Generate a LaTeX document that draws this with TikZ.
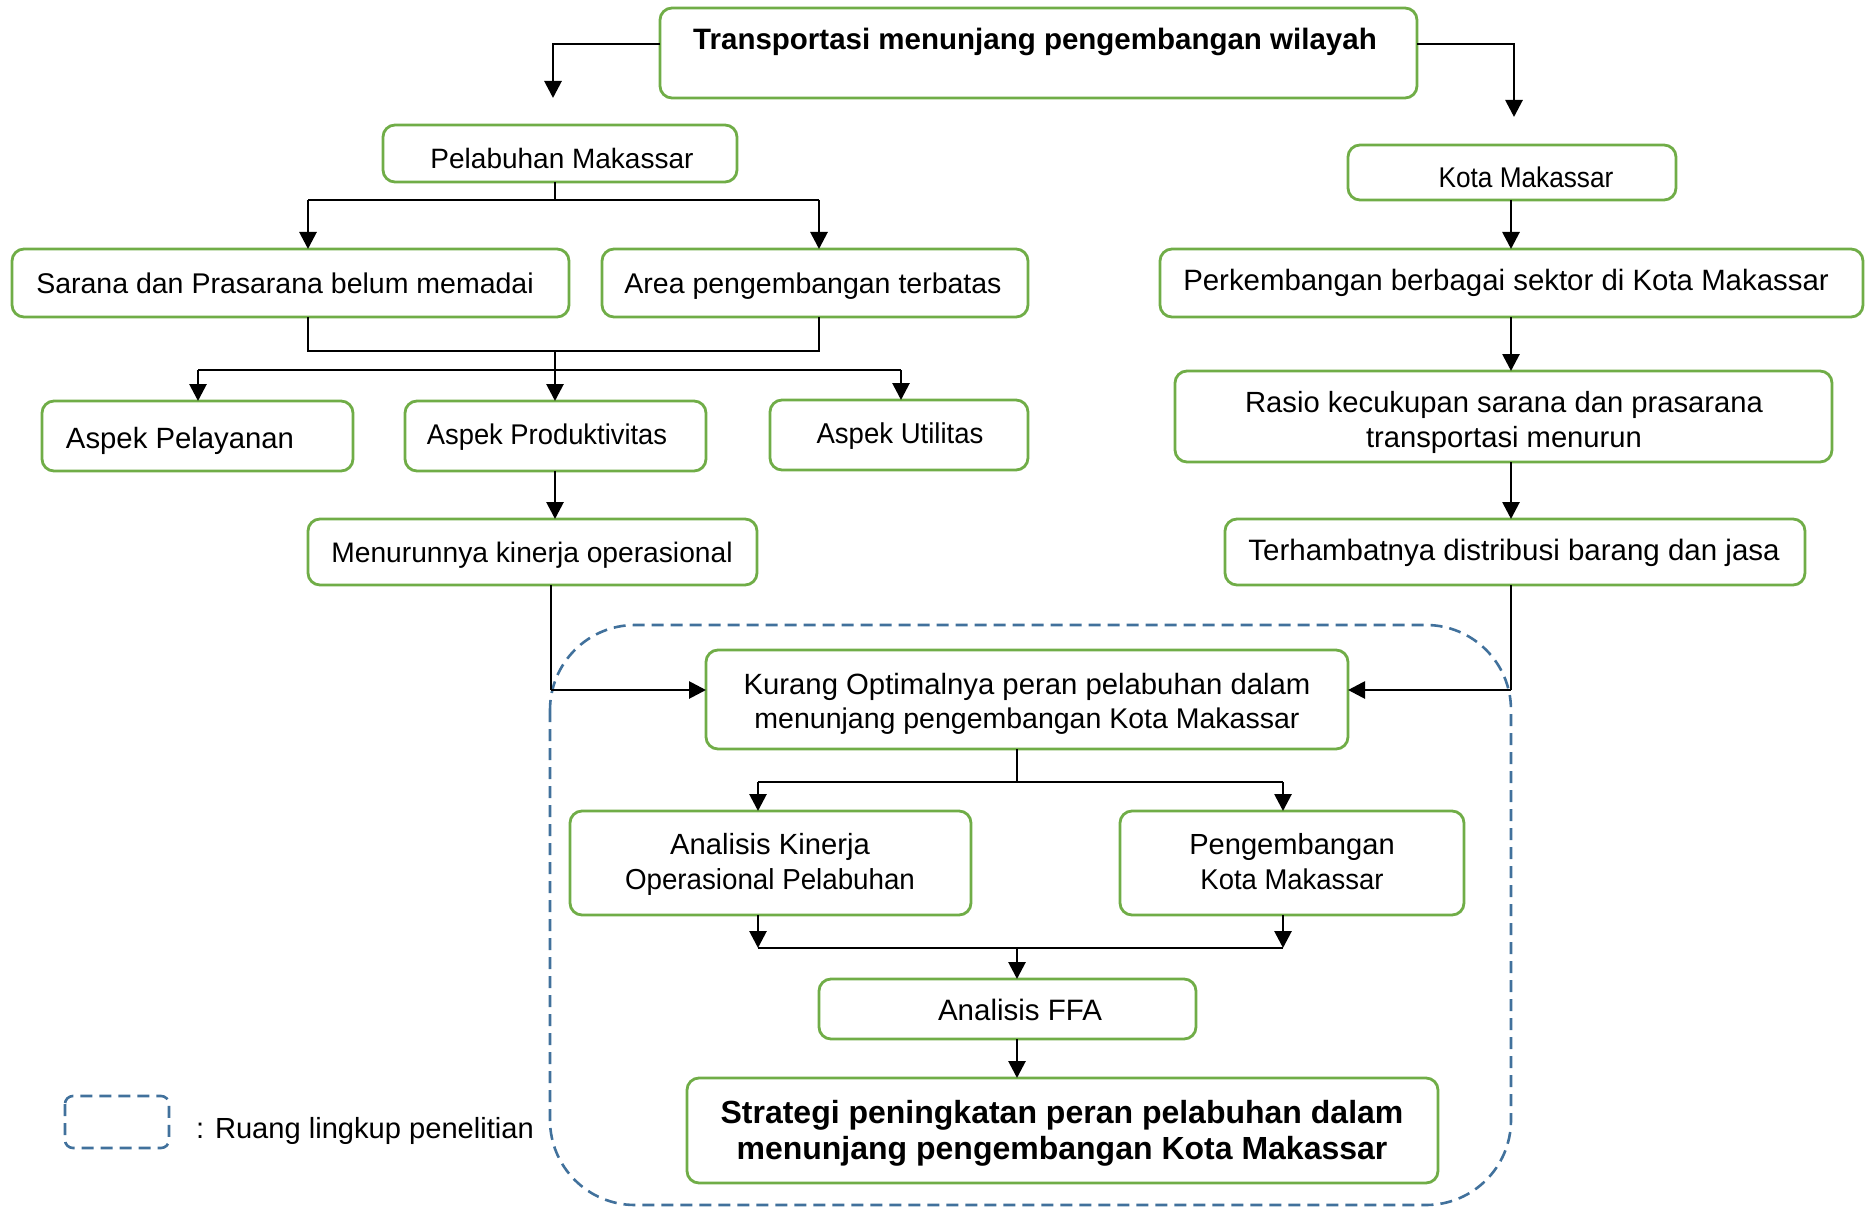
\documentclass[tikz,border=0pt]{standalone}
\usepackage{fontspec}
\setmainfont{Liberation Sans}
\newfontfamily\narrowA[FakeStretch=0.92]{Liberation Sans}
\newfontfamily\narrowB[FakeStretch=0.96]{Liberation Sans}
\usetikzlibrary{arrows.meta,calc}
\definecolor{gr}{HTML}{70AD47}
\definecolor{db}{HTML}{41719C}
\tikzset{
 gbox/.style={draw=gr, line width=2.8pt, rounded corners=12pt, fill=white, inner sep=0pt, outer sep=0pt},
 txt/.style={anchor=base, inner sep=0pt, font=\fontsize{28.5}{34}\selectfont},
 fs/.style={font=\fontsize{#1}{34}\selectfont},
 nfa/.style={font=\fontsize{#1}{34}\narrowA\selectfont},
 nfb/.style={font=\fontsize{#1}{34}\narrowB\selectfont},
 btxt/.style={anchor=base, inner sep=0pt, font=\fontsize{29.5}{36}\selectfont\bfseries},
 bfs/.style={font=\fontsize{#1}{36}\selectfont\bfseries},
 arr/.style={draw=black, line width=2.8pt, -{Triangle[length=17pt,width=17pt]}},
 ln/.style={draw=black, line width=1.7pt},
 scopebox/.style={draw=db, line width=2.6pt, dash pattern=on 12pt off 7pt},
}
\newcommand{\mkbox}[5]{\node[gbox, minimum width={(#4-#2)*1pt}, minimum height={(#5-#3)*1pt}] (#1) at ({(#2+#4)/2},{(#3+#5)/2}) {};}
\begin{document}
\begin{tikzpicture}[x=1pt,y=-1pt]
\useasboundingbox (0,0) rectangle (1866,1209);
% scope region
\draw[scopebox, rounded corners=85pt] (550,625) rectangle (1511,1205);
\draw[scopebox, rounded corners=8pt] (65,1096) rectangle (169,1148);
% boxes
\mkbox{top}{660}{8}{1417}{98}
\mkbox{pel}{383}{125}{737}{182}
\mkbox{kota}{1348}{145}{1676}{200}
\mkbox{sar}{12}{249}{569}{317}
\mkbox{area}{602}{249}{1028}{317}
\mkbox{per}{1160}{249}{1863}{317}
\mkbox{apl}{42}{401}{353}{471}
\mkbox{apr}{405}{401}{706}{471}
\mkbox{aut}{770}{400}{1028}{470}
\mkbox{ras}{1175}{371}{1832}{462}
\mkbox{men}{308}{519}{757}{585}
\mkbox{ter}{1225}{519}{1805}{585}
\mkbox{kur}{706}{650}{1348}{749}
\mkbox{ak}{570}{811}{971}{915}
\mkbox{pk}{1120}{811}{1464}{915}
\mkbox{ffa}{819}{979}{1196}{1039}
\mkbox{st}{687}{1078}{1438}{1183}
% texts
\node[btxt] (ttop) at (1035,50) {Transportasi menunjang pengembangan wilayah};
\node[txt, fs=28] (tpel) at (562,169) {Pelabuhan Makassar};
\node[txt, nfa=28.5] (tkota) at (1526,188) {Kota Makassar};
\node[txt] (tsar) at (285,293) {Sarana dan Prasarana belum memadai};
\node[txt] (tarea) at (813,293) {Area pengembangan terbatas};
\node[txt, fs=29.4] (tper) at (1506,290) {Perkembangan berbagai sektor di Kota Makassar};
\node[txt, fs=29.3] (tapl) at (180,448) {Aspek Pelayanan};
\node[txt, nfb=28.5] (tapr) at (547,444) {Aspek Produktivitas};
\node[txt, nfb=28.7] (taut) at (900,443) {Aspek Utilitas};
\node[txt, fs=29.2] (tras1) at (1504,412) {Rasio kecukupan sarana dan prasarana};
\node[txt, fs=29.2] (tras2) at (1504,447) {transportasi menurun};
\node[txt, fs=28.2] (tmen) at (532,562) {Menurunnya kinerja operasional};
\node[txt, fs=29.5] (tter) at (1514,560) {Terhambatnya distribusi barang dan jasa};
\node[txt, fs=29.3] (tkur1) at (1027,694) {Kurang Optimalnya peran pelabuhan dalam};
\node[txt] (tkur2) at (1027,728) {menunjang pengembangan Kota Makassar};
\node[txt, fs=29.2] (tak1) at (770,854) {Analisis Kinerja};
\node[txt, nfb=28.9] (tak2) at (770,889) {Operasional Pelabuhan};
\node[txt, fs=29.1] (tpk1) at (1292,854) {Pengembangan};
\node[txt, nfb=28.6] (tpk2) at (1292,889) {Kota Makassar};
\node[txt, fs=29.5] (tffa) at (1020,1020) {Analisis FFA};
\node[btxt, bfs=32] (tst1) at (1062,1123) {Strategi peningkatan peran pelabuhan dalam};
\node[btxt, bfs=32] (tst2) at (1062,1159) {menunjang pengembangan Kota Makassar};
\node[txt, fs=29.1, anchor=base west] (tleg) at (196,1138) {: Ruang lingkup penelitian};
% connectors top
\coordinate (lp) at (553,98);
\coordinate (rp) at (1514,117);
\draw[arr] (top.west |- 0,44) -| (lp);
\draw[arr] (top.east |- 0,44) -| (rp);
% pelabuhan split
\coordinate (j1) at (555,200);
\draw[ln] (j1 |- pel.south) -- (j1);
\draw[ln] (308,200) -- (819,200);
\draw[arr] (308,200) -- (sar.north -| 308,0);
\draw[arr] (819,200) -- (area.north -| 819,0);
% merge sarana/area
\coordinate (j2) at (555,351);
\coordinate (j3) at (555,370);
\draw[ln] (sar.south -| 308,0) -- (308,351) -- (819,351) -- (area.south -| 819,0);
\draw[ln] (j2) -- (j3);
\draw[ln] (198,370) -- (901,370);
\draw[arr] (198,370) -- (apl.north -| 198,0);
\draw[arr] (j3) -- (apr.north -| j3);
\draw[arr] (901,370) -- (aut.north -| 901,0);
\draw[arr] (apr.south -| 555,0) -- (men.north -| 555,0);
% right column
\draw[arr] (kota.south -| 1511,0) -- (per.north -| 1511,0);
\draw[arr] (per.south -| 1511,0) -- (ras.north -| 1511,0);
\draw[arr] (ras.south -| 1511,0) -- (ter.north -| 1511,0);
% into kurang
\draw[ln] (men.south -| 551,0) -- (551,690);
\draw[arr] (551,690) -- (kur.west |- 0,690);
\draw[ln] (ter.south -| 1511,0) -- (1511,690);
\draw[arr] (1511,690) -- (kur.east |- 0,690);
% kurang split
\coordinate (j4) at (1017,782);
\draw[ln] (kur.south -| j4) -- (j4);
\draw[ln] (758,782) -- (1283,782);
\draw[arr] (758,782) -- (ak.north -| 758,0);
\draw[arr] (1283,782) -- (pk.north -| 1283,0);
% merge
\coordinate (j5) at (1017,948);
\draw[arr] (ak.south -| 758,0) -- (758,948);
\draw[arr] (pk.south -| 1283,0) -- (1283,948);
\draw[ln] (758,948) -- (1283,948);
\draw[arr] (j5) -- (ffa.north -| j5);
\draw[arr] (ffa.south -| 1017,0) -- (st.north -| 1017,0);
\end{tikzpicture}
\end{document}
